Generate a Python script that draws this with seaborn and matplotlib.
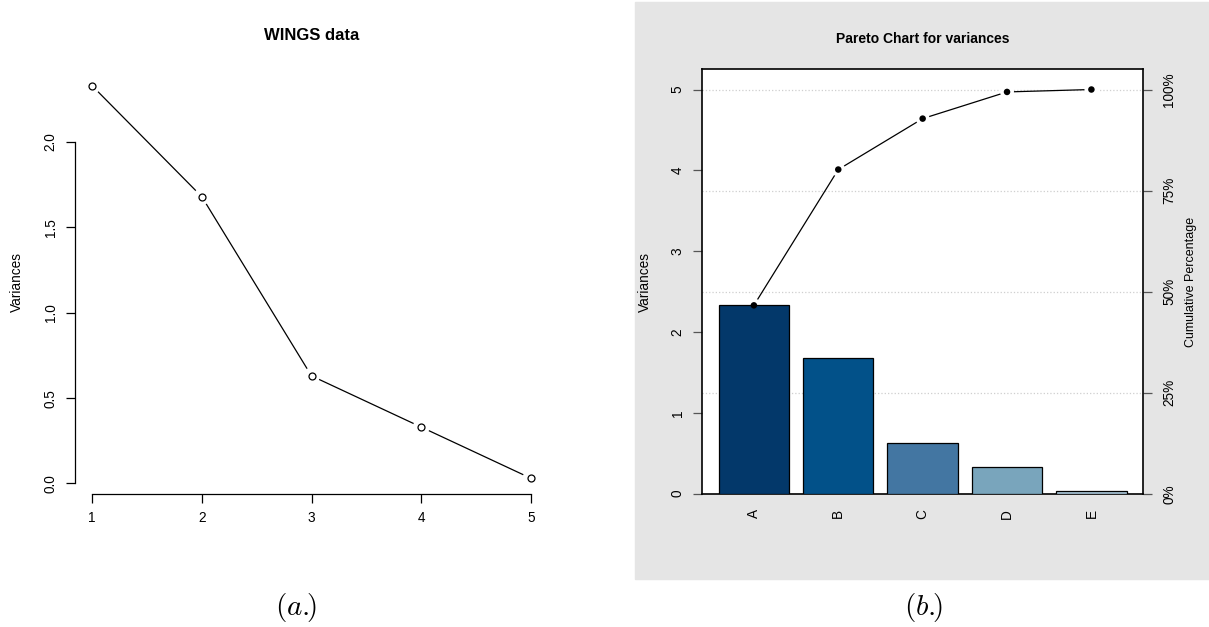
import numpy as np
import seaborn as sns
import matplotlib.pyplot as plt
from matplotlib.patches import Rectangle

# values
components = [1, 2, 3, 4, 5]
variances = [2.33, 1.68, 0.63, 0.33, 0.03]
pareto_labels = ['A', 'B', 'C', 'D', 'E']
pct_ticks = [0, 25, 50, 75, 100]
bar_colors = ['#03386a', '#025189', '#4376a2', '#79a5bc', '#a9c5d8']

cumulative = np.cumsum(variances)
total = cumulative[-1]
positions = np.arange(len(pareto_labels))

sns.set_theme(style='white')
plt.rcParams['font.family'] = ['Liberation Sans', 'DejaVu Sans']
plt.rcParams['mathtext.fontset'] = 'cm'
plt.rcParams['text.color'] = 'black'

W, H = 1209, 627
fig = plt.figure(figsize=(W / 100, H / 100), dpi=100)


def px_box(x0, y0, x1, y1):
    # pixel box with top-left origin -> figure fraction rect
    return [x0 / W, 1 - y1 / H, (x1 - x0) / W, (y1 - y0) / H]


# gray panel behind the pareto chart
fig.add_artist(Rectangle((635 / W, 1 - 579 / H), 1 - 635 / W, 577 / H,
                         transform=fig.transFigure, color='#e5e5e5', zorder=-1))

# ---- (a.) scree plot ----
ax1 = fig.add_axes(px_box(74.5, 70, 548.5, 494))
sns.lineplot(x=components, y=variances, color='black', lw=0.9, ax=ax1, zorder=2)
sns.scatterplot(x=components, y=variances, s=150, color='white', edgecolor='none', ax=ax1, zorder=3)
sns.scatterplot(x=components, y=variances, s=25, facecolor='white', edgecolor='black',
                linewidth=0.9, ax=ax1, zorder=4)

ext_x = 0.04 * (max(components) - min(components))
ext_y = 0.04 * (max(variances) - min(variances))
ax1.set_xlim(min(components) - ext_x, max(components) + ext_x)
ax1.set_ylim(min(variances) - ext_y, max(variances) + ext_y)
ax1.set_xticks(components)
ax1.set_yticks([0, 0.5, 1.0, 1.5, 2.0])
ax1.set_yticklabels(['0.0', '0.5', '1.0', '1.5', '2.0'])
ax1.spines[['top', 'right']].set_visible(False)
ax1.spines['left'].set_bounds(0, 2.0)
ax1.spines['bottom'].set_bounds(min(components), max(components))
for s in ['left', 'bottom']:
    ax1.spines[s].set_color('black')
    ax1.spines[s].set_linewidth(0.9)
ax1.tick_params(left=True, bottom=True, length=6.5, width=0.9, color='black',
                labelsize=9.8, pad=5.5, labelcolor='black')
ax1.tick_params(axis='y', labelrotation=90)
for lbl in ax1.get_yticklabels():
    lbl.set_va('center')
ax1.set_xlabel('')
ax1.set_ylabel('')

fig.text(311.5 / W, 1 - 36 / H, 'WINGS data', ha='center', va='center',
         fontsize=12, fontweight='bold')
fig.text(17 / W, 1 - 282 / H, 'Variances', rotation=90, ha='center', va='center', fontsize=9.8)
fig.text(296 / W, 1 - 608 / H, r'$(a.\!\!)$', ha='center', va='center', fontsize=21)

# ---- (b.) pareto chart ----
ax2 = fig.add_axes(px_box(702, 69.3, 1143.3, 493.7))
axr = ax2.twinx()
ax2.set_zorder(axr.get_zorder() + 1)
ax2.patch.set_visible(False)
axr.patch.set_visible(True)
axr.set_facecolor('white')

sns.barplot(x=pareto_labels, y=variances, hue=pareto_labels, palette=bar_colors, legend=False,
            width=0.834, saturation=1, edgecolor='black', linewidth=0.9, errorbar=None,
            ax=ax2, zorder=3)
sns.lineplot(x=positions, y=cumulative, color='black', lw=0.9, ax=ax2, zorder=2)
sns.scatterplot(x=positions, y=cumulative, s=100, color='white', edgecolor='none', ax=ax2, zorder=2.5)
sns.scatterplot(x=positions, y=cumulative, s=22, color='black', edgecolor='none', ax=ax2, zorder=4)

ax2.set_xlim(-0.615, len(pareto_labels) - 1 + 0.615)
ax2.set_ylim(0, total * 1.05)
ax2.set_yticks(range(0, 6))
ax2.set_xlabel('')
ax2.set_ylabel('')
for s in ax2.spines.values():
    s.set_visible(True)
    s.set_color('black')
    s.set_linewidth(1.2)
ax2.tick_params(axis='y', left=True, length=6.5, width=0.9, color='#555555',
                labelsize=9.8, pad=6, labelrotation=90, labelcolor='black')
ax2.tick_params(axis='x', bottom=False, length=0, labelsize=9.8, pad=11,
                labelrotation=90, labelcolor='black')
for lbl in ax2.get_yticklabels():
    lbl.set_va('center')

axr.set_ylim(0, 105)
axr.set_yticks(pct_ticks)
axr.set_yticklabels([f'{p}%' for p in pct_ticks])
axr.grid(True, axis='y', ls=':', color='#cfcfcf', lw=0.9)
axr.grid(False, axis='x')
for s in axr.spines.values():
    s.set_visible(False)
axr.tick_params(axis='y', right=True, length=6.5, width=0.9, color='#555555',
                labelsize=9.8, pad=7, labelrotation=90, labelcolor='black')
for lbl in axr.get_yticklabels():
    lbl.set_va('center')

fig.text(922.6 / W, 1 - 39 / H, 'Pareto Chart for variances', ha='center', va='center',
         fontsize=10, fontweight='bold')
fig.text(645 / W, 1 - 281.5 / H, 'Variances', rotation=90, ha='center', va='center', fontsize=9.8)
fig.text(1191 / W, 1 - 281.5 / H, 'Cumulative Percentage', rotation=90, ha='center',
         va='center', fontsize=9)
fig.text(923.6 / W, 1 - 608 / H, r'$(b.\!\!)$', ha='center', va='center', fontsize=21)

fig.savefig('out.png', dpi=100)
